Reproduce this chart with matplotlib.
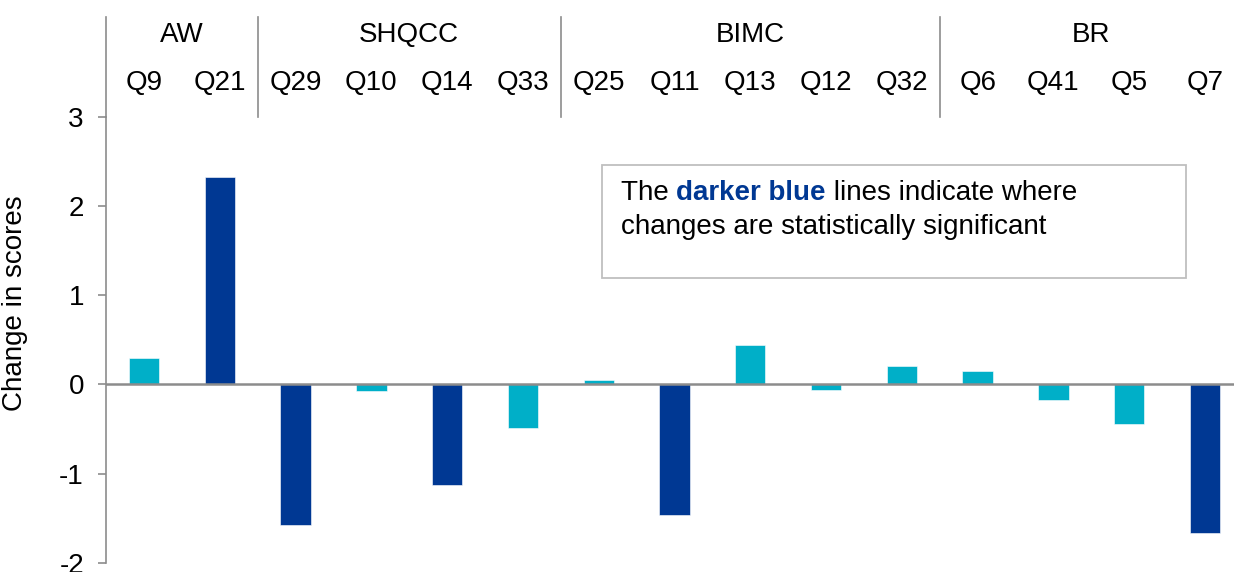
import matplotlib
matplotlib.use("Agg")
import matplotlib.pyplot as plt
from matplotlib.patches import Rectangle
from matplotlib.lines import Line2D
from matplotlib.text import Annotation

plt.rcParams['font.family'] = ['Liberation Sans', 'DejaVu Sans']

# ---- data ----
questions = ["Q9", "Q21", "Q29", "Q10", "Q14", "Q33", "Q25", "Q11", "Q13", "Q12",
             "Q32", "Q6", "Q41", "Q5", "Q7"]
changes = [0.30, 2.32, -1.58, -0.07, -1.13, -0.49, 0.05, -1.47, 0.44, -0.06,
           0.21, 0.15, -0.18, -0.45, -1.67]
significant = [False, True, True, False, True, False, False, True, False, False,
               False, False, False, False, True]
groups = ["AW", "SHQCC", "BIMC", "BR"]
group_sizes = [2, 4, 5, 4]
yticks = [-2, -1, 0, 1, 2, 3]

LIGHT = "#00AFC8"
DARK = "#003893"
GRAY = "#8C8C8C"
FS = 20

W, H = 1234, 572
fig = plt.figure(figsize=(W / 100, H / 100), dpi=100)

ax_left_px, ax_right_px = 106.1, 1242.9
ax_bot_px, ax_top_px = 562.7, 116.7
ax = fig.add_axes([ax_left_px / W, (H - ax_bot_px) / H,
                   (ax_right_px - ax_left_px) / W, (ax_bot_px - ax_top_px) / H])

x = list(range(len(questions)))
colors = [DARK if s else LIGHT for s in significant]
ax.bar(x, changes, width=0.40, color=colors, edgecolor="white", linewidth=0.4, zorder=2)
ax.axhline(0, color=GRAY, lw=1.8, zorder=3)

ax.set_xlim(-0.5, len(questions) - 0.5)
ax.set_ylim(-2, 3)
ax.set_yticks(yticks)
ax.set_yticklabels([str(v) for v in yticks], fontsize=FS)
ax.tick_params(axis='y', direction='out', length=6, width=1.2, color=GRAY, pad=10)
ax.set_xticks([])
for s in ['top', 'right', 'bottom']:
    ax.spines[s].set_visible(False)
ax.spines['left'].set_color(GRAY)
ax.spines['left'].set_linewidth(1.2)

ax.set_ylabel("Change in scores", fontsize=FS)
ax.yaxis.set_label_coords(-0.069, 0.582)

# header: question labels, group labels, separators
trans = ax.get_xaxis_transform()
def ay(py):
    return (ax_bot_px - py) / (ax_bot_px - ax_top_px)

for xi, q in zip(x, questions):
    ax.text(xi, ay(83), q, transform=trans, ha='center', va='center', fontsize=FS, clip_on=False)

start = 0
seps = [-0.5]
for g, n in zip(groups, group_sizes):
    center = start + (n - 1) / 2
    ax.text(center, ay(35), g, transform=trans, ha='center', va='center', fontsize=FS, clip_on=False)
    start += n
    if start < len(questions):
        seps.append(start - 0.5)

for i, sx in enumerate(seps):
    top = ay(17)
    bot = 1.0 if i == 0 else ay(117)
    ax.add_line(Line2D([sx, sx], [bot, top], transform=trans, color=GRAY, lw=1.2, clip_on=False))

# annotation box
bx0, by0, bx1, by1 = 602, 165, 1186, 278
fig.patches.append(Rectangle((bx0 / W, (H - by1) / H), (bx1 - bx0) / W, (by1 - by0) / H,
                             transform=fig.transFigure, facecolor='white',
                             edgecolor="#BFBFBF", lw=1.3, zorder=5))

t1 = fig.text(621 / W, (H - 200) / H, "The ", fontsize=FS, va='baseline', ha='left', zorder=6)
t2 = Annotation("darker blue", xy=(1, 0), xycoords=t1, va='bottom', ha='left',
                fontsize=FS, fontweight='bold', color=DARK, zorder=6, annotation_clip=False)
fig.add_artist(t2)
t3 = Annotation(" lines indicate where", xy=(1, 0), xycoords=t2, va='bottom', ha='left',
                fontsize=FS, zorder=6, annotation_clip=False)
fig.add_artist(t3)
fig.text(621 / W, (H - 234) / H, "changes are statistically significant", fontsize=FS,
         va='baseline', ha='left', zorder=6)

fig.savefig("out.png", dpi=100)
